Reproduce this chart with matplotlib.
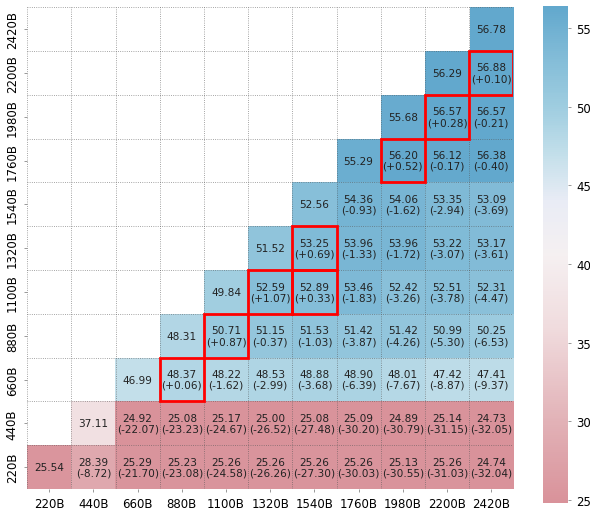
import numpy as np
import matplotlib
matplotlib.use("Agg")
import matplotlib.pyplot as plt
from matplotlib.colors import LinearSegmentedColormap
from matplotlib.patches import Rectangle

labels = ["220B", "440B", "660B", "880B", "1100B", "1320B", "1540B",
          "1760B", "1980B", "2200B", "2420B"]

# one list per row (y label), starting at the diagonal cell
row_220 = [25.54, 28.39, 25.29, 25.23, 25.26, 25.26, 25.26, 25.26, 25.13, 25.26, 24.74]
row_440 = [37.11, 24.92, 25.08, 25.17, 25.00, 25.08, 25.09, 24.89, 25.14, 24.73]
row_660 = [46.99, 48.37, 48.22, 48.53, 48.88, 48.90, 48.01, 47.42, 47.41]
row_880 = [48.31, 50.71, 51.15, 51.53, 51.42, 51.42, 50.99, 50.25]
row_1100 = [49.84, 52.59, 52.89, 53.46, 52.42, 52.51, 52.31]
row_1320 = [51.52, 53.25, 53.96, 53.96, 53.22, 53.17]
row_1540 = [52.56, 54.36, 54.06, 53.35, 53.09]
row_1760 = [55.29, 56.20, 56.12, 56.38]
row_1980 = [55.68, 56.57, 56.57]
row_2200 = [56.29, 56.88]
row_2420 = [56.78]

rows = [row_220, row_440, row_660, row_880, row_1100, row_1320,
        row_1540, row_1760, row_1980, row_2200, row_2420]

n = len(labels)
M = np.full((n, n), np.nan)
for i, r in enumerate(rows):
    M[i, i:] = r
diag = np.diag(M)

vmin, vmax = 24.8, 56.4
# colour stops given at data values
stops = [(24.8, "#d9929a"), (30.0, "#e2b2b7"), (36.0, "#f0dcde"),
         (40.6, "#f5f0f1"), (44.0, "#e9ecf5"), (47.0, "#c3dfea"),
         (50.0, "#9fcde0"), (53.0, "#84bdd8"), (56.4, "#62a8cd")]
cmap = LinearSegmentedColormap.from_list(
    "pinkblue", [((v - vmin) / (vmax - vmin), c) for v, c in stops], N=256)
cmap.set_bad("white")

fig = plt.figure(figsize=(5.9, 5.1), dpi=100)
ax = fig.add_axes([0.046, 0.039, 0.824, 0.945])
cax = fig.add_axes([0.92, 0.012, 0.042, 0.974])

im = ax.imshow(np.ma.masked_invalid(M), cmap=cmap, origin="lower",
               vmin=vmin, vmax=vmax, aspect="auto",
               extent=(-0.5, n - 0.5, -0.5, n - 0.5))

for i in range(n):
    for j in range(i, n):
        v = M[i, j]
        if i == j:
            txt = f"{v:.2f}"
        else:
            d = round(v - diag[j], 2)
            txt = f"{v:.2f}\n({d:+.2f})"
            if d > 0:
                ax.add_patch(Rectangle((j - 0.5, i - 0.5), 1, 1, fill=False,
                                       edgecolor="red", lw=2, zorder=4))
        ax.text(j, i, txt, ha="center", va="center", fontsize=7.6,
                color="#222222", linespacing=1.1, zorder=5)

ax.set_xticks(range(n))
ax.set_xticklabels(labels, fontsize=8.5)
ax.set_yticks(range(n))
ax.set_yticklabels(labels, fontsize=8.5, rotation=90, va="center")
ax.set_xticks(np.arange(-0.5, n, 1), minor=True)
ax.set_yticks(np.arange(-0.5, n, 1), minor=True)
ax.grid(which="minor", linestyle=":", color="#555555", lw=0.6, alpha=0.7)
ax.grid(which="major", visible=False)
ax.tick_params(which="minor", length=0)
ax.tick_params(which="major", length=2.5, width=0.6, color="#888888")
for s in ax.spines.values():
    s.set_visible(False)
ax.set_axisbelow(False)

cb = fig.colorbar(im, cax=cax)
cb.outline.set_visible(False)
cb.ax.tick_params(labelsize=8.5, length=2.5, width=0.6, color="#888888")

fig.savefig("out.png", dpi=100)
